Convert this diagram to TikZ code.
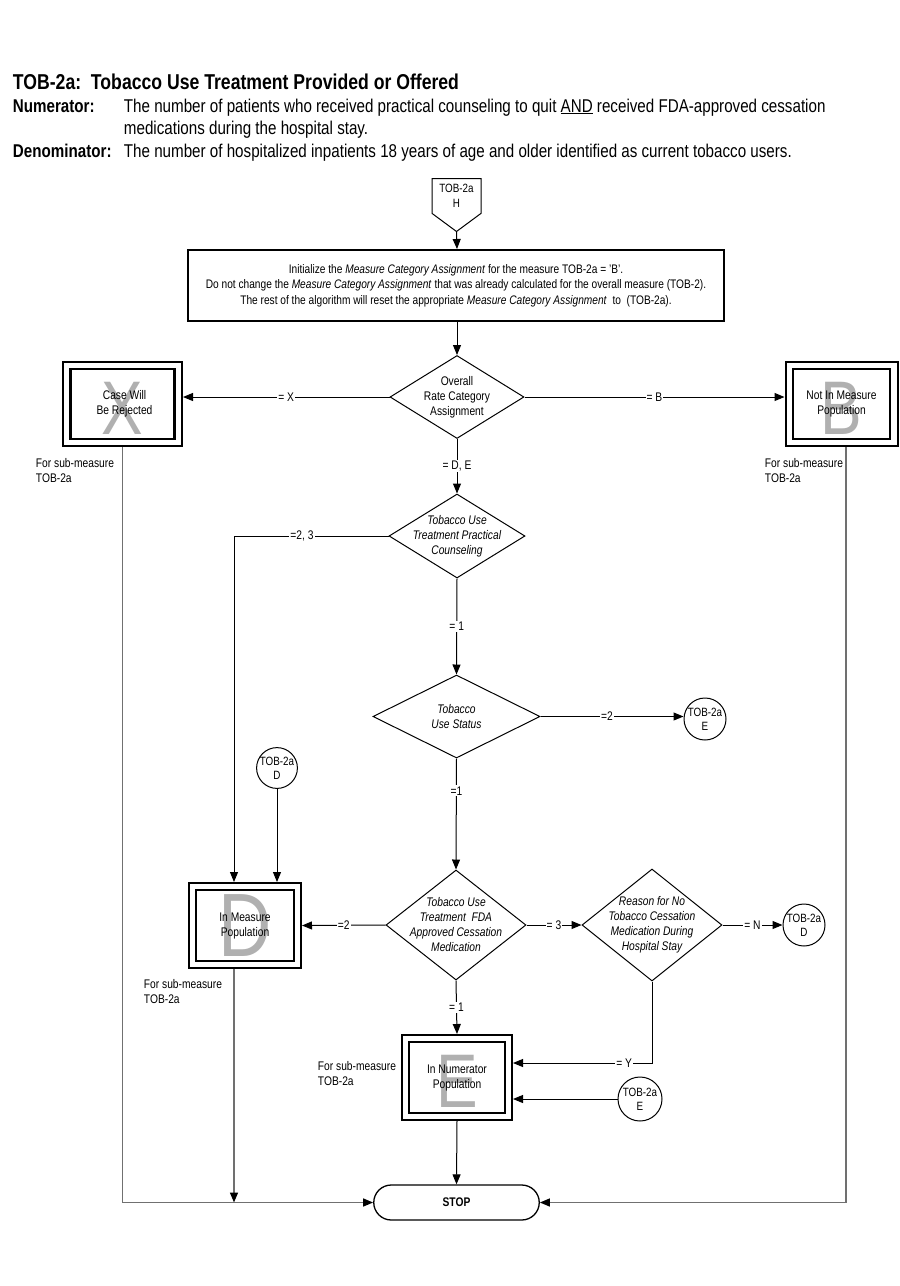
\documentclass[tikz,border=0pt]{standalone}
\usepackage{fontspec}
\setmainfont{Liberation Sans}[FakeStretch=0.82]
\usetikzlibrary{shapes.geometric,shapes.symbols,shapes.misc,arrows.meta}

\begin{document}
\begin{tikzpicture}[x=1pt,y=1pt,yscale=-1,
  every node/.style={inner sep=0.75pt},
  hd/.style={font=\fontsize{18.5}{20}\selectfont},
  hdb/.style={font=\fontsize{18.5}{20}\selectfont\bfseries},
  txt/.style={font=\fontsize{12.5}{15}\selectfont, align=center},
  itxt/.style={font=\fontsize{12.5}{15}\selectfont\itshape, align=center},
  subtxt/.style={font=\fontsize{12.5}{15}\selectfont, align=left, anchor=west},
  lbl/.style={fill=white, font=\fontsize{12.5}{13}\selectfont, inner sep=1pt},
  arr/.style={line width=1pt, -{Triangle[length=10pt,width=8pt]}},
  grayarr/.style={line width=1.5pt, draw={rgb,255:red,112;green,112;blue,112}, -{Triangle[length=10pt,width=8pt,color=black]}},
  outerbox/.style={draw, line width=2pt},
  innerbox/.style={draw, line width=2.5pt},
  bigletter/.style={text={rgb,255:red,176;green,176;blue,176}, font=\fontsize{76}{76}\selectfont},
  dia/.style={draw, diamond, line width=1pt, inner sep=0pt},
  conn/.style={draw, circle, line width=1pt, inner sep=0pt, minimum size=42pt, align=center, font=\fontsize{12}{14}\selectfont},
  offpage/.style={draw, shape=signal, signal to=south, signal from=nowhere, signal pointer angle=107, line width=1pt, minimum width=49pt, minimum height=48pt, align=center, font=\fontsize{12}{15}\selectfont},
  initbox/.style={draw, line width=2pt, minimum width=536pt, minimum height=71pt, align=center, font=\fontsize{12.4}{15.5}\selectfont},
  stopbox/.style={draw, rounded rectangle, line width=1.3pt, minimum width=167pt, minimum height=35pt, font=\fontsize{12.5}{13}\selectfont\bfseries}
]
\useasboundingbox (0,0) rectangle (900,1286);

% Header
\node[anchor=base west, font=\fontsize{21.5}{24}\selectfont\bfseries] (title) at (12,89) {TOB-2a:\ \ Tobacco Use Treatment Provided or Offered};
\node[anchor=base west, hdb] (numlab) at (12,112) {Numerator:};
\node[anchor=base west, hd] (numtxt) at (123,112) {The number of patients who received practical counseling to quit \underline{AND} received FDA-approved cessation};
\node[anchor=base west, hd] (numtxt2) at (123,134) {medications during the hospital stay.};
\node[anchor=base west, hdb] (denlab) at (12,157) {Denominator:};
\node[anchor=base west, hd] (dentxt) at (123,157) {The number of hospitalized inpatients 18 years of age and older identified as current tobacco users.};

% Start
\node[offpage] (h) at (456.5,196) {TOB-2a\\H};
\node[initbox] (init) at (456,285.5) {Initialize the \textit{Measure Category Assignment} for the measure TOB-2a = 'B'.\\Do not change the \textit{Measure Category Assignment} that was already calculated for the overall measure (TOB-2).\\The rest of the algorithm will reset the appropriate \textit{Measure Category Assignment}\ \ to\ \ (TOB-2a).};

% Overall Rate Category Assignment
\node[dia, minimum width=134pt, minimum height=83pt] (ovr) at (457,397) {};
\node[txt] (ovr-t) at (ovr) {Overall\\Rate Category\\Assignment};

% Case Will Be Rejected
\node[outerbox, minimum width=119pt, minimum height=84pt] (rej) at (122.5,404) {};
\node[innerbox, minimum width=104pt, minimum height=70pt] (rej-in) at (rej) {};
\node[bigletter] (rej-l) at ([yshift=4pt]rej) {X};
\node[txt] (rej-t) at ([xshift=2pt]rej) {Case Will\\Be Rejected};
\node[subtxt] (rej-s) at (35,470.5) {For sub-measure\\TOB-2a};

% Not In Measure Population
\node[outerbox, minimum width=112pt, minimum height=84pt] (nim) at (841.5,404) {};
\node[innerbox, minimum width=97pt, minimum height=70pt] (nim-in) at (nim) {};
\node[bigletter] (nim-l) at ([yshift=4pt]nim) {B};
\node[txt] (nim-t) at (nim) {Not In Measure\\Population};
\node[subtxt] (nim-s) at (764,470.5) {For sub-measure\\TOB-2a};

% Practical Counseling
\node[dia, minimum width=136pt, minimum height=84pt] (cns) at (457,536) {};
\node[itxt] (cns-t) at (cns) {Tobacco Use\\Treatment Practical\\Counseling};

% Tobacco Use Status
\node[dia, minimum width=167pt, minimum height=83pt] (sts) at (456.5,716.5) {};
\node[itxt] (sts-t) at (sts) {Tobacco\\Use Status};
\node[conn] (e1) at (705,719) {TOB-2a\\E};
\node[conn, minimum size=40pt] (d1) at (277,768) {TOB-2a\\D};

% In Measure Population
\node[outerbox, minimum width=112pt, minimum height=85pt] (inm) at (245,925.5) {};
\node[innerbox, minimum width=98pt, minimum height=71pt] (inm-in) at (inm) {};
\node[bigletter, font=\fontsize{90}{90}\selectfont] (inm-l) at (inm) {D};
\node[txt] (inm-t) at (inm) {In Measure\\Population};
\node[subtxt] (inm-s) at (143,992) {For sub-measure\\TOB-2a};

% FDA Approved Cessation Medication
\node[dia, minimum width=140pt, minimum height=110pt] (fda) at (456,925) {};
\node[itxt] (fda-t) at (fda) {Tobacco Use\\Treatment\ \ FDA\\Approved Cessation\\Medication};
\node[dia, minimum width=140pt, minimum height=112pt] (rsn) at (652,925) {};
\node[itxt] (rsn-t) at (rsn) {Reason for No\\Tobacco Cessation\\Medication During\\Hospital Stay};
\node[conn] (d2) at (804,925) {TOB-2a\\D};

% In Numerator Population
\node[outerbox, minimum width=110pt, minimum height=85pt] (inum) at (457,1077.5) {};
\node[innerbox, minimum width=96pt, minimum height=71pt] (inum-in) at (inum) {};
\node[bigletter] (inum-l) at ([yshift=4pt]inum) {E};
\node[txt] (inum-t) at (inum) {In Numerator\\Population};
\node[subtxt] (inum-s) at (317,1074) {For sub-measure\\TOB-2a};
\node[conn, minimum size=44pt] (e2) at (640,1099) {TOB-2a\\E};

% Stop
\node[stopbox] (stop) at (456.5,1202.5) {STOP};

% Connectors
\draw[arr] (h.south) -- (ovr.north |- init.north);
\draw[arr] (ovr.north |- init.south) -- (ovr.north);
\draw[arr] (ovr.west) -- node[lbl] {= X} (ovr.west -| rej.east);
\draw[arr] (ovr.east) -- node[lbl] {= B} (ovr.east -| nim.west);
\draw[arr] (ovr.south) -- node[lbl] {= D, E} (cns.north);
\draw[arr] (cns.west) -| node[lbl, pos=0.28] {=2, 3} ([xshift=-11pt]inm.north);
\draw[arr] (cns.south) -- node[lbl] {= 1} (sts.north);
\draw[arr] (sts.east) -- node[lbl, pos=0.465] {=2} (sts.east -| e1.west);
\draw[arr] (sts.south) -- node[lbl, pos=0.29] {=1} (fda.north);
\draw[arr] (d1) -- (d1 |- inm.north);
\draw[arr] (fda.west) -- node[lbl] {=2} (inm.east);
\draw[arr] (fda.east) -- node[lbl] {= 3} (rsn.west);
\draw[arr] (rsn.east) -- node[lbl] {= N} (d2.west);
\draw[arr] (fda.south) -- node[lbl] {= 1} (inum.north);
\draw[arr] (rsn.south) |- node[lbl, pos=0.6] {= Y} (inum.east |- 0,1063);
\draw[arr] (e2) -- (e2 -| inum.east);
\draw[arr] (inum.south) -- (stop.north);
\draw[grayarr] (rej.south) |- (stop.west);
\draw[grayarr] ([xshift=4.5pt]nim.south) |- (stop.east);
\draw[grayarr] ([xshift=-11pt]inm.south) -- ([xshift=-11pt]inm.south |- stop.west);
\end{tikzpicture}
\end{document}
